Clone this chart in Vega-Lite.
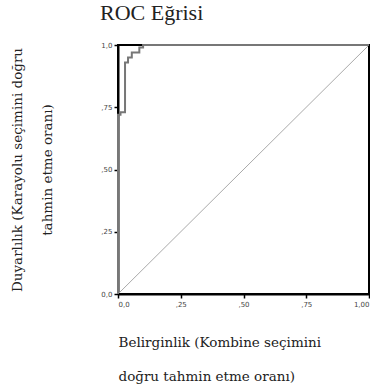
{
  "$schema": "https://vega.github.io/schema/vega-lite/v6.json",
  "width": 251,
  "height": 249,
  "autosize": "none",
  "padding": {"left": 118, "top": 45, "right": 1, "bottom": 98},
  "background": "white",
  "title": {
    "text": "ROC Eğrisi",
    "anchor": "start",
    "frame": "group",
    "dx": -18,
    "offset": 16,
    "font": "Liberation Serif",
    "fontSize": 22,
    "fontWeight": "normal",
    "color": "#222"
  },
  "config": {
    "view": {"stroke": "#000", "strokeWidth": 2},
    "axis": {
      "grid": false,
      "domainColor": "#000",
      "domainWidth": 2,
      "tickColor": "#000",
      "tickWidth": 1.5,
      "tickSize": 4,
      "labelFont": "DejaVu Sans",
      "labelFontSize": 7,
      "labelColor": "#444",
      "titleFont": "DejaVu Serif",
      "titleFontSize": 13.5,
      "titleFontWeight": "normal",
      "titleColor": "#222"
    }
  },
  "layer": [
    {
      "data": {"values": [{"x": 0, "y": 0}, {"x": 1, "y": 1}]},
      "mark": {"type": "line", "color": "#aaa", "strokeWidth": 1},
      "encoding": {
        "x": {
          "field": "x", "type": "quantitative",
          "scale": {"domain": [0, 1], "nice": false},
          "axis": {
            "values": [0, 0.25, 0.5, 0.75, 1],
            "labelExpr": "datum.value == 0 ? '0,0' : datum.value == 1 ? '1,00' : datum.value == 0.25 ? ',25' : datum.value == 0.5 ? ',50' : ',75'",
            "title": ["Belirginlik (Kombine seçimini", "doğru tahmin etme oranı)"],
            "titleAnchor": "start",
            "titleAlign": "left",
            "titleLineHeight": 34,
            "titlePadding": 28
          }
        },
        "y": {
          "field": "y", "type": "quantitative",
          "scale": {"domain": [0, 1], "nice": false},
          "axis": {
            "values": [0, 0.25, 0.5, 0.75, 1],
            "labelExpr": "datum.value == 0 ? '0,0' : datum.value == 1 ? '1,0' : datum.value == 0.25 ? ',25' : datum.value == 0.5 ? ',50' : ',75'",
            "title": ["Duyarlılık (Karayolu seçimini doğru", "tahmin etme oranı)"],
            "titleLineHeight": 30,
            "titlePadding": 46
          }
        }
      }
    },
    {
      "data": {"values": [
        {"i": 1, "x": 0, "y": 0},
        {"i": 2, "x": 0, "y": 0.72},
        {"i": 3, "x": 0.01, "y": 0.72},
        {"i": 4, "x": 0.01, "y": 0.73},
        {"i": 5, "x": 0.028, "y": 0.73},
        {"i": 6, "x": 0.028, "y": 0.93},
        {"i": 7, "x": 0.04, "y": 0.93},
        {"i": 8, "x": 0.04, "y": 0.95},
        {"i": 9, "x": 0.055, "y": 0.95},
        {"i": 10, "x": 0.055, "y": 0.97},
        {"i": 11, "x": 0.085, "y": 0.97},
        {"i": 12, "x": 0.085, "y": 0.99},
        {"i": 13, "x": 0.1, "y": 0.99},
        {"i": 14, "x": 0.1, "y": 1},
        {"i": 15, "x": 0.28, "y": 1},
        {"i": 16, "x": 1, "y": 1}
      ]},
      "mark": {"type": "line", "color": "#777", "strokeWidth": 2},
      "encoding": {
        "x": {"field": "x", "type": "quantitative"},
        "y": {"field": "y", "type": "quantitative"},
        "order": {"field": "i", "type": "quantitative"}
      }
    }
  ]
}
